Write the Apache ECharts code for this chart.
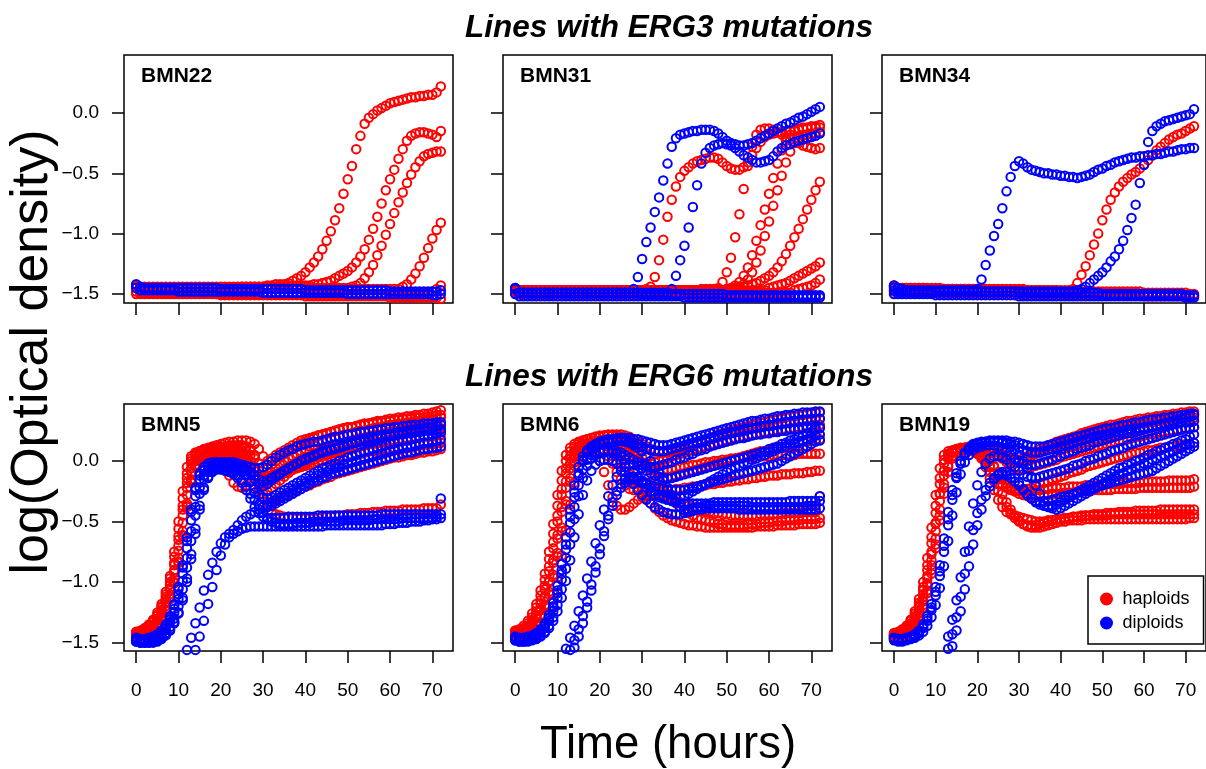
<!DOCTYPE html>
<html><head><meta charset="utf-8">
<script src="https://cdn.jsdelivr.net/npm/echarts@6/dist/echarts.min.js"></script>
<style>html,body{margin:0;padding:0;background:#fff}#c{width:1206px;height:769px}</style>
</head><body><div id="c"></div>
<script>
// time grid (hours) and tick labels
const HOURS = [0,1,2,3,4,5,6,7,8,9,10,11,12,13,14,15,16,17,18,19,20,21,22,23,24,25,26,27,28,29,30,31,32,33,34,35,36,37,38,39,40,41,42,43,44,45,46,47,48,49,50,51,52,53,54,55,56,57,58,59,60,61,62,63,64,65,66,67,68,69,70,71,72];
const X_TICKS = [0,10,20,30,40,50,60,70];
const Y_TICKS = [-1.5,-1.0,-0.5,0.0];
const ROW_TITLES = ['Lines with ERG3 mutations','Lines with ERG6 mutations'];
const PANEL_NAMES = ['BMN22','BMN31','BMN34','BMN5','BMN6','BMN19'];
const GROUPS = ['haploids','diploids'];
// values: log(OD) x 100, one value per hour

// ---- BMN22 ----
const bmn22_hap_a = [-144,-145,-145,-145,-145,-145,-145,-145,-145,-145,
-145,-145,-145,-145,-145,-145,-145,-145,-145,-145,
-145,-145,-145,-145,-145,-144,-144,-144,-144,-144,
-144,-143,-143,-142,-142,-142,-141,-139,-137,-135,
-132,-128,-124,-119,-113,-106,-98,-89,-79,-67,
-55,-44,-30,-19,-9,-4,-1,2,4,6,
8,9,10,11,12,13,13,14,14,15,
15,17,22];
const bmn22_hap_b = [-143,-144,-144,-144,-144,-144,-144,-144,-144,-144,
-144,-144,-144,-144,-144,-144,-144,-144,-144,-144,
-144,-144,-144,-144,-144,-144,-144,-144,-144,-144,
-144,-144,-144,-144,-144,-144,-143,-143,-143,-143,
-143,-143,-142,-142,-141,-140,-139,-137,-135,-133,
-131,-128,-124,-119,-113,-105,-96,-86,-75,-64,
-55,-47,-38,-30,-23,-19,-17,-16,-16,-17,
-18,-20,-15];
const bmn22_hap_c = [-144,-145,-145,-145,-145,-145,-145,-145,-145,-145,
-145,-145,-145,-145,-145,-145,-145,-145,-145,-145,
-145,-145,-145,-145,-145,-145,-145,-145,-145,-145,
-145,-145,-145,-145,-145,-145,-145,-145,-145,-145,
-145,-145,-145,-145,-145,-145,-145,-145,-145,-145,
-145,-144,-143,-141,-137,-132,-126,-118,-110,-101,
-92,-83,-74,-66,-58,-51,-45,-40,-36,-34,
-33,-32,-32];
const bmn22_hap_d = [-144,-146,-146,-146,-146,-146,-146,-146,-146,-146,
-146,-146,-146,-146,-146,-146,-146,-146,-146,-146,
-146,-146,-146,-146,-146,-146,-146,-146,-146,-146,
-146,-146,-146,-146,-146,-146,-146,-146,-146,-146,
-146,-146,-146,-146,-146,-146,-146,-146,-146,-146,
-146,-146,-146,-146,-146,-146,-146,-146,-146,-146,
-146,-146,-146,-144,-142,-138,-133,-127,-120,-112,
-104,-97,-91];
const bmn22_hap_e = [-148,-149,-149,-149,-149,-149,-149,-149,-149,-149,
-149,-149,-149,-149,-149,-149,-149,-149,-149,-149,
-150,-150,-150,-150,-150,-150,-150,-150,-150,-150,
-150,-150,-150,-150,-150,-150,-150,-150,-150,-150,
-150,-150,-150,-150,-150,-150,-150,-150,-150,-150,
-150,-150,-150,-150,-150,-150,-150,-150,-150,-150,
-151,-151,-151,-151,-151,-151,-151,-151,-151,-150,
-148,-146,-143];
const bmn22_hap_f = [-150,-150,-150,-150,-150,-150,-150,-150,-150,-150,
-150,-150,-150,-150,-150,-150,-150,-150,-150,-150,
-151,-151,-151,-151,-151,-151,-151,-151,-151,-151,
-151,-151,-151,-151,-151,-151,-151,-151,-151,-151,
-152,-152,-152,-152,-152,-152,-152,-152,-152,-152,
-152,-152,-152,-152,-152,-152,-152,-152,-152,-152,
-153,-153,-153,-153,-153,-153,-153,-153,-153,-153,
-153,-153,-154];
const bmn22_dip_a = [-142,-144,-145,-145,-145,-145,-145,-145,-145,-145,
-145,-145,-145,-145,-145,-145,-145,-145,-145,-145,
-146,-146,-146,-146,-146,-146,-146,-146,-146,-146,
-146,-146,-146,-146,-146,-146,-146,-146,-146,-146,
-147,-147,-147,-147,-147,-147,-147,-147,-147,-147,
-147,-147,-147,-147,-147,-147,-147,-147,-147,-147,
-148,-148,-148,-148,-148,-148,-148,-148,-148,-148,
-148,-148,-147];
const bmn22_dip_b = [-145,-147,-147,-147,-147,-147,-147,-147,-147,-147,
-148,-148,-148,-148,-148,-148,-148,-148,-148,-148,
-148,-148,-148,-148,-148,-148,-148,-148,-148,-148,
-149,-149,-149,-149,-149,-149,-149,-149,-149,-149,
-149,-149,-149,-149,-149,-149,-149,-149,-149,-149,
-150,-150,-150,-150,-150,-150,-150,-150,-150,-150,
-150,-150,-150,-150,-150,-150,-150,-150,-150,-150,
-151,-151,-150];

// ---- BMN31 ----
const bmn31_hap_a = [-146,-147,-147,-147,-147,-147,-147,-147,-147,-147,
-147,-147,-147,-147,-147,-147,-147,-147,-147,-147,
-147,-147,-147,-147,-147,-147,-147,-147,-147,-147,
-147,-146,-144,-136,-122,-105,-86,-72,-61,-53,
-48,-45,-42,-40,-39,-38,-37,-37,-38,-41,
-44,-46,-47,-47,-45,-41,-35,-29,-24,-20,
-18,-17,-16,-16,-15,-15,-14,-14,-13,-13,
-12,-12,-12];
const bmn31_hap_b = [-146,-147,-147,-147,-147,-147,-147,-147,-147,-147,
-147,-147,-147,-147,-147,-147,-147,-147,-147,-147,
-147,-147,-147,-147,-147,-147,-147,-147,-147,-147,
-147,-147,-147,-147,-147,-147,-147,-147,-147,-147,
-147,-147,-147,-147,-146,-146,-146,-146,-145,-140,
-132,-120,-103,-84,-63,-44,-28,-18,-14,-13,
-13,-14,-16,-18,-20,-22,-24,-25,-27,-28,
-29,-30,-29];
const bmn31_hap_c = [-146,-147,-147,-147,-147,-147,-147,-147,-147,-147,
-147,-147,-147,-147,-147,-147,-147,-147,-147,-147,
-147,-147,-147,-147,-147,-147,-147,-147,-147,-147,
-147,-147,-147,-147,-147,-147,-147,-147,-147,-147,
-147,-147,-147,-147,-147,-147,-147,-147,-147,-147,
-146,-145,-143,-140,-135,-128,-118,-106,-93,-80,
-67,-54,-42,-31,-23,-18,-15,-13,-12,-12,
-11,-11,-10];
const bmn31_hap_d = [-146,-147,-147,-147,-147,-147,-147,-147,-147,-147,
-147,-147,-147,-147,-147,-147,-147,-147,-147,-147,
-147,-147,-147,-147,-147,-147,-147,-147,-147,-147,
-147,-147,-147,-147,-147,-147,-147,-147,-147,-147,
-147,-147,-147,-147,-147,-147,-147,-147,-147,-147,
-147,-146,-145,-144,-142,-138,-132,-124,-114,-102,
-90,-77,-64,-52,-41,-32,-25,-21,-19,-18,
-17,-17,-16];
const bmn31_hap_e = [-146,-147,-147,-147,-147,-147,-147,-147,-147,-147,
-147,-147,-147,-147,-147,-147,-147,-147,-147,-147,
-147,-147,-147,-147,-147,-147,-147,-147,-147,-147,
-147,-147,-147,-147,-147,-147,-147,-147,-147,-147,
-147,-147,-147,-147,-147,-147,-147,-147,-147,-147,
-146,-146,-145,-145,-144,-143,-142,-141,-139,-137,
-135,-132,-128,-123,-117,-110,-103,-96,-88,-80,
-72,-64,-57];
const bmn31_hap_f = [-147,-148,-148,-148,-148,-148,-148,-148,-148,-148,
-148,-148,-148,-148,-148,-148,-148,-148,-148,-148,
-148,-148,-148,-148,-148,-148,-148,-148,-148,-148,
-148,-148,-148,-148,-148,-148,-148,-148,-148,-148,
-148,-148,-148,-148,-148,-148,-148,-148,-148,-148,
-147,-147,-147,-147,-147,-147,-147,-147,-147,-147,
-145,-144,-143,-142,-141,-139,-137,-135,-133,-131,
-129,-127,-124];
const bmn31_hap_g = [-148,-149,-149,-149,-149,-149,-149,-149,-149,-149,
-149,-149,-149,-149,-149,-149,-149,-149,-149,-149,
-149,-149,-149,-149,-149,-149,-149,-149,-149,-149,
-149,-149,-149,-149,-149,-149,-149,-149,-149,-149,
-149,-149,-149,-149,-149,-149,-149,-149,-149,-149,
-149,-149,-149,-149,-149,-149,-149,-149,-149,-149,
-149,-149,-149,-149,-149,-149,-147,-146,-145,-144,
-143,-141,-138];
const bmn31_hap_h = [-149,-150,-150,-150,-150,-150,-150,-150,-150,-150,
-150,-150,-150,-150,-150,-150,-150,-150,-150,-150,
-150,-150,-150,-150,-150,-150,-150,-150,-150,-150,
-150,-150,-150,-150,-150,-150,-150,-150,-150,-150,
-151,-151,-151,-151,-151,-151,-151,-151,-151,-151,
-151,-151,-151,-151,-151,-151,-151,-151,-151,-151,
-152,-152,-152,-152,-152,-152,-152,-152,-152,-152,
-152,-152,-152];
const bmn31_dip_a = [-145,-149,-149,-149,-149,-149,-149,-149,-149,-149,
-149,-149,-149,-149,-149,-149,-149,-149,-149,-149,
-149,-149,-149,-149,-149,-149,-149,-149,-146,-136,
-121,-107,-95,-82,-70,-56,-42,-28,-21,-18,
-17,-16,-15,-15,-14,-14,-14,-15,-17,-20,
-23,-25,-26,-27,-27,-26,-25,-23,-21,-19,
-17,-15,-13,-11,-9,-8,-6,-4,-3,-1,
1,3,5];
const bmn31_dip_b = [-145,-149,-149,-149,-149,-149,-149,-149,-149,-149,
-149,-149,-149,-149,-149,-149,-149,-149,-149,-149,
-149,-149,-149,-149,-149,-149,-149,-149,-149,-149,
-149,-149,-149,-149,-149,-149,-149,-146,-135,-122,
-110,-95,-78,-60,-42,-33,-29,-27,-26,-25,
-26,-27,-29,-32,-35,-37,-39,-41,-41,-40,
-39,-36,-32,-29,-27,-26,-24,-23,-22,-21,
-20,-19,-17];
const bmn31_dip_c = [-146,-149,-149,-149,-149,-149,-149,-149,-149,-149,
-149,-149,-149,-149,-149,-149,-149,-149,-149,-149,
-149,-149,-149,-149,-149,-149,-149,-149,-149,-149,
-150,-150,-150,-150,-150,-150,-150,-150,-150,-150,
-150,-150,-150,-150,-150,-150,-150,-150,-150,-150,
-151,-151,-151,-151,-151,-151,-151,-151,-151,-151,
-151,-151,-151,-151,-151,-151,-151,-151,-151,-151,
-151,-151,-151];
const bmn31_dip_d = [-150,-152,-152,-152,-152,-152,-152,-152,-152,-152,
-152,-152,-152,-152,-152,-152,-152,-152,-152,-152,
-152,-152,-152,-152,-152,-152,-152,-152,-152,-152,
-152,-152,-152,-152,-152,-152,-152,-152,-152,-152,
-153,-153,-153,-153,-153,-153,-153,-153,-153,-153,
-153,-153,-153,-153,-153,-153,-153,-153,-153,-153,
-153,-153,-153,-153,-153,-153,-153,-153,-153,-153,
-153,-153,-153];

// ---- BMN34 ----
const bmn34_hap_a = [-143,-145,-145,-145,-145,-145,-145,-145,-145,-145,
-145,-145,-146,-146,-146,-146,-146,-146,-146,-146,
-146,-146,-146,-146,-146,-146,-146,-146,-146,-146,
-146,-146,-147,-147,-147,-147,-147,-147,-147,-147,
-147,-147,-147,-146,-141,-134,-127,-118,-109,-100,
-89,-80,-72,-66,-61,-57,-54,-51,-49,-46,
-43,-39,-35,-31,-28,-25,-22,-20,-18,-17,
-15,-13,-11];
const bmn34_hap_b = [-144,-145,-145,-145,-145,-145,-145,-145,-146,-146,
-146,-146,-146,-146,-146,-146,-146,-146,-146,-146,
-147,-147,-147,-147,-147,-147,-147,-147,-147,-147,
-147,-147,-147,-147,-147,-147,-147,-147,-147,-147,
-148,-148,-148,-148,-148,-148,-148,-148,-148,-148,
-148,-148,-148,-148,-148,-148,-148,-148,-148,-148,
-149,-149,-149,-149,-149,-149,-149,-149,-149,-149,
-149,-150,-150];
const bmn34_hap_c = [-148,-148,-148,-148,-148,-148,-148,-148,-148,-148,
-149,-149,-149,-149,-149,-149,-149,-149,-149,-149,
-149,-149,-149,-149,-149,-149,-149,-149,-149,-149,
-150,-150,-150,-150,-150,-150,-150,-150,-150,-150,
-150,-150,-150,-150,-150,-150,-150,-150,-150,-150,
-151,-151,-151,-151,-151,-151,-151,-151,-151,-151,
-152,-152,-152,-152,-152,-152,-152,-152,-152,-152,
-152,-152,-152];
const bmn34_dip_a = [-143,-145,-146,-147,-147,-147,-147,-147,-147,-147,
-147,-147,-147,-147,-147,-147,-147,-147,-147,-147,
-146,-138,-126,-114,-102,-92,-79,-65,-53,-44,
-40,-42,-45,-47,-48,-49,-50,-50,-51,-51,
-52,-52,-53,-53,-54,-53,-52,-51,-49,-47,
-46,-44,-43,-41,-40,-39,-38,-37,-37,-36,
-36,-35,-35,-34,-34,-33,-32,-32,-31,-30,
-30,-29,-29];
const bmn34_dip_b = [-145,-148,-148,-148,-148,-148,-148,-148,-148,-148,
-148,-148,-148,-148,-148,-148,-148,-148,-148,-148,
-148,-148,-148,-148,-148,-148,-148,-148,-148,-148,
-148,-148,-148,-148,-148,-148,-148,-148,-148,-148,
-148,-148,-148,-148,-147,-146,-144,-141,-138,-135,
-132,-128,-123,-119,-113,-106,-97,-87,-76,-58,
-43,-24,-15,-11,-9,-7,-6,-5,-4,-3,
-2,-1,3];
const bmn34_dip_c = [-147,-148,-148,-148,-148,-148,-148,-148,-148,-148,
-148,-148,-148,-148,-148,-148,-148,-148,-148,-148,
-148,-148,-148,-148,-148,-148,-148,-148,-148,-148,
-149,-149,-149,-149,-149,-149,-149,-149,-149,-149,
-149,-149,-149,-149,-149,-149,-149,-149,-149,-149,
-150,-150,-150,-150,-150,-150,-150,-150,-150,-150,
-150,-150,-150,-150,-150,-150,-150,-150,-150,-150,
-151,-151,-151];
const bmn34_dip_d = [-150,-150,-150,-150,-150,-150,-150,-150,-150,-150,
-151,-151,-151,-151,-151,-151,-151,-151,-151,-151,
-151,-151,-151,-151,-151,-151,-151,-151,-151,-151,
-152,-152,-152,-152,-152,-152,-152,-152,-152,-152,
-152,-152,-152,-152,-152,-152,-152,-152,-152,-152,
-152,-152,-152,-152,-152,-152,-152,-152,-152,-152,
-152,-152,-152,-152,-152,-152,-152,-152,-152,-152,
-153,-153,-153];

// ---- BMN5 ----
const bmn5_hap_a = [-141,-140,-138,-135,-131,-125,-118,-108,-95,-75,
-50,-25,-5,4,7,8,9,10,10,11,
11,12,12,12,13,13,12,10,5,-2,
-5,-6,-3,0,3,6,8,10,12,14,
16,18,19,21,22,23,24,25,26,27,
28,28,29,30,31,31,32,33,33,34,
35,35,36,36,37,37,38,38,39,39,
40,41,42];
const bmn5_hap_b = [-143,-142,-141,-139,-136,-131,-125,-116,-105,-90,
-70,-45,-22,-6,2,5,6,7,7,8,
8,8,8,8,7,6,3,-3,-12,-22,
-27,-25,-22,-19,-16,-13,-10,-7,-5,-3,
-1,1,3,5,7,8,10,11,12,14,
15,16,17,18,19,20,21,22,22,23,
24,25,25,26,27,27,28,28,29,29,
30,30,31];
const bmn5_hap_c = [-142,-141,-139,-137,-133,-128,-121,-112,-100,-84,
-62,-37,-14,0,6,8,9,9,10,10,
10,10,10,10,10,9,8,5,-5,-18,
-30,-38,-42,-44,-45,-46,-46,-47,-47,-47,
-47,-47,-47,-47,-46,-46,-46,-45,-45,-45,
-44,-44,-44,-43,-43,-43,-42,-42,-42,-41,
-41,-41,-41,-40,-40,-40,-40,-40,-39,-39,
-39,-39,-36];
const bmn5_hap_d = [-145,-144,-143,-141,-138,-134,-128,-120,-110,-97,
-80,-58,-35,-15,-3,2,4,5,5,5,
5,5,5,5,5,4,2,-5,-15,-20,
-20,-18,-16,-14,-12,-10,-8,-6,-5,-3,
-2,0,1,3,4,5,6,7,8,9,
10,11,12,13,13,14,15,15,16,16,
17,17,18,18,19,19,20,20,21,21,
21,22,22];
const bmn5_hap_e = [-142,-141,-140,-138,-135,-130,-123,-114,-102,-86,
-65,-40,-18,-2,5,8,10,11,12,13,
14,15,16,16,17,17,17,16,14,10,
4,0,2,5,7,9,11,13,15,17,
18,19,20,21,22,23,24,25,26,27,
28,28,29,30,30,31,31,32,32,33,
33,34,34,35,35,35,36,36,36,37,
37,38,38];
const bmn5_hap_f = [-146,-145,-144,-142,-140,-136,-131,-124,-114,-101,
-84,-62,-38,-18,-5,0,2,3,3,2,
0,-5,-12,-18,-21,-22,-20,-17,-15,-14,
-14,-13,-12,-11,-10,-9,-8,-7,-6,-5,
-4,-3,-2,-1,0,1,1,2,3,4,
4,5,6,6,7,8,8,9,9,10,
10,11,11,12,12,13,13,13,14,14,
14,15,15];
const bmn5_hap_g = [-142,-141,-139,-136,-132,-127,-120,-110,-97,-79,
-56,-31,-10,2,6,8,9,10,11,11,
12,12,13,13,13,13,12,9,2,-8,
-14,-12,-9,-6,-3,0,2,4,6,8,
10,12,13,15,16,17,18,19,20,21,
22,23,24,25,25,26,27,28,28,29,
30,30,31,31,32,32,33,33,34,34,
35,35,36];
const bmn5_hap_h = [-144,-143,-142,-140,-137,-132,-126,-117,-106,-92,
-74,-51,-28,-10,0,4,6,7,8,8,
8,8,8,8,8,7,5,0,-8,-14,
-16,-15,-13,-11,-9,-7,-5,-3,-1,1,
3,4,6,7,8,9,10,11,12,13,
14,15,16,17,17,18,19,20,20,21,
21,22,23,23,24,24,25,25,26,26,
26,27,27];
const bmn5_hap_i = [-145,-144,-143,-141,-139,-135,-130,-123,-113,-100,
-83,-61,-37,-17,-4,2,5,6,7,7,
7,7,6,6,5,4,1,-5,-14,-24,
-31,-34,-34,-33,-31,-29,-28,-26,-24,-23,
-21,-20,-18,-17,-15,-14,-13,-11,-10,-9,
-8,-7,-6,-5,-4,-3,-2,-1,0,1,
2,3,3,4,5,5,6,7,7,8,
8,9,10];
const bmn5_dip_a = [-147,-148,-148,-147,-146,-144,-141,-136,-129,-119,
-106,-88,-66,-42,-24,-12,-7,-4,-3,-3,
-3,-3,-3,-3,-4,-5,-7,-9,-12,-15,
-17,-16,-14,-12,-10,-8,-6,-4,-2,0,
2,3,5,6,8,9,10,11,12,13,
14,15,16,17,18,19,20,20,21,22,
22,23,24,24,25,26,26,27,27,28,
28,29,30];
const bmn5_dip_b = [-148,-149,-149,-148,-147,-146,-143,-139,-133,-125,
-114,-99,-80,-58,-38,-22,-12,-7,-5,-4,
-4,-4,-5,-6,-7,-9,-12,-17,-26,-36,
-43,-48,-50,-51,-52,-52,-52,-52,-51,-51,
-51,-51,-50,-50,-50,-50,-50,-50,-50,-49,
-49,-49,-49,-49,-49,-49,-48,-48,-48,-48,
-48,-48,-48,-47,-47,-47,-47,-47,-47,-47,
-47,-46,-31];
const bmn5_dip_c = [-149,-150,-150,-150,-149,-148,-146,-143,-139,-133,
-125,-113,-97,-77,-56,-37,-22,-13,-8,-6,
-5,-5,-5,-6,-7,-9,-12,-17,-23,-28,
-30,-31,-30,-28,-26,-24,-22,-20,-18,-16,
-14,-12,-10,-8,-6,-5,-3,-2,0,1,
3,4,5,7,8,9,10,11,12,13,
14,15,16,17,17,18,19,20,21,21,
22,23,24];
const bmn5_dip_d = [null,null,null,null,null,null,null,null,null,null,
null,-160,-156,-146,-134,-121,-107,-94,-84,-75,
-68,-63,-60,-57,-53,-49,-46,-44,-42,-40,
-38,-36,-34,-32,-30,-28,-26,-24,-22,-20,
-18,-16,-14,-12,-10,-9,-7,-6,-5,-3,
-2,-1,0,1,2,3,4,5,6,7,
8,9,10,11,11,12,13,14,15,15,
16,17,18];
const bmn5_dip_e = [null,null,null,null,null,null,null,null,null,null,
null,null,null,-162,-156,-145,-132,-118,-104,-90,
-78,-69,-63,-60,-58,-56,-55,-54,-54,-54,
-54,-54,-54,-54,-54,-54,-54,-54,-54,-54,
-54,-54,-54,-54,-54,-53,-53,-53,-53,-53,
-53,-53,-53,-53,-53,-53,-53,-53,-53,-52,
-52,-52,-51,-51,-51,-50,-50,-50,-49,-49,
-48,-48,-47];
const bmn5_dip_f = [-146,-147,-147,-146,-145,-143,-140,-135,-128,-118,
-104,-86,-63,-40,-22,-10,-5,-2,-1,-1,
-1,-1,-1,-1,-2,-3,-4,-5,-6,-6,
-5,-3,0,3,5,7,9,10,12,13,
14,15,16,16,17,18,19,20,20,21,
22,22,23,24,24,25,25,26,26,27,
27,28,28,29,29,30,30,30,31,31,
31,32,32];
const bmn5_dip_g = [-147,-148,-148,-147,-146,-145,-142,-138,-131,-122,
-110,-93,-72,-49,-29,-15,-8,-5,-4,-4,
-4,-4,-4,-4,-5,-6,-8,-11,-15,-19,
-21,-19,-16,-13,-11,-8,-6,-4,-2,0,
1,3,4,6,7,8,9,10,11,12,
13,14,15,16,16,17,18,19,19,20,
21,21,22,22,23,23,24,24,25,25,
25,26,26];
const bmn5_dip_h = [-148,-149,-149,-149,-148,-147,-145,-142,-137,-130,
-120,-106,-88,-66,-45,-27,-15,-9,-6,-5,
-5,-6,-7,-9,-12,-16,-21,-27,-32,-36,
-38,-38,-37,-35,-33,-31,-29,-27,-25,-23,
-21,-19,-17,-16,-14,-13,-11,-10,-9,-8,
-7,-6,-5,-4,-3,-2,-1,0,1,2,
3,4,5,6,7,7,8,9,10,10,
11,11,12];
const bmn5_dip_i = [-149,-150,-150,-150,-150,-149,-147,-144,-140,-134,
-126,-115,-100,-81,-60,-40,-24,-14,-9,-7,
-7,-8,-9,-11,-14,-18,-24,-31,-38,-43,
-46,-47,-47,-47,-47,-47,-46,-46,-46,-46,
-46,-46,-46,-45,-45,-45,-45,-45,-45,-45,
-45,-45,-45,-45,-45,-45,-45,-45,-44,-44,
-44,-44,-44,-44,-44,-44,-44,-44,-44,-44,
-44,-44,-44];

// ---- BMN6 ----
const bmn6_hap_a = [-140,-139,-136,-132,-126,-118,-107,-93,-75,-52,
-28,-8,5,11,14,16,17,18,19,20,
21,21,22,22,22,22,21,20,18,16,
14,12,10,9,8,7,7,7,8,9,
10,12,13,15,16,18,19,20,22,23,
24,25,26,27,28,29,30,31,32,32,
33,34,35,35,36,37,37,38,38,39,
39,40,40];
const bmn6_hap_b = [-142,-141,-139,-136,-131,-124,-115,-103,-87,-67,
-45,-23,-6,4,9,12,14,15,16,17,
17,18,18,18,18,17,16,14,11,7,
3,-2,-7,-12,-17,-22,-27,-31,-35,-38,
-41,-43,-45,-47,-48,-49,-50,-51,-52,-52,
-53,-53,-53,-53,-53,-52,-52,-52,-51,-51,
-51,-50,-50,-50,-49,-49,-49,-49,-48,-48,
-48,-48,-47];
const bmn6_hap_c = [-143,-142,-140,-138,-134,-129,-122,-112,-99,-82,
-61,-38,-17,-2,6,9,10,10,9,6,
0,-9,-20,-30,-37,-40,-40,-38,-35,-32,
-30,-28,-27,-26,-25,-25,-24,-24,-23,-23,
-22,-22,-21,-21,-20,-20,-19,-19,-18,-18,
-17,-17,-16,-16,-15,-15,-14,-14,-13,-13,
-12,-12,-12,-11,-11,-11,-10,-10,-10,-9,
-9,-8,-8];
const bmn6_hap_d = [-144,-143,-142,-140,-137,-133,-127,-119,-108,-94,
-76,-55,-33,-14,-1,6,10,12,13,14,
14,15,15,15,14,13,11,8,4,0,
-3,-5,-7,-8,-8,-8,-7,-7,-6,-5,
-5,-4,-3,-3,-2,-1,-1,0,0,1,
1,2,2,2,3,3,3,4,4,4,
4,5,5,5,5,5,5,6,6,6,
6,6,6];
const bmn6_hap_e = [-145,-144,-143,-141,-138,-134,-128,-120,-110,-96,
-79,-58,-36,-17,-4,4,8,10,11,11,
10,8,4,-2,-9,-15,-20,-23,-24,-24,
-24,-24,-25,-26,-27,-28,-30,-31,-33,-34,
-35,-37,-38,-39,-40,-41,-42,-43,-43,-44,
-44,-45,-45,-45,-45,-45,-45,-45,-44,-44,
-44,-44,-44,-43,-43,-43,-43,-43,-42,-42,
-42,-42,-29];
const bmn6_hap_f = [-146,-146,-145,-144,-142,-139,-135,-129,-121,-110,
-96,-78,-57,-36,-18,-5,3,8,11,13,
14,15,16,16,16,15,13,10,6,2,
-1,-2,-2,-1,0,1,2,4,5,6,
7,8,9,10,11,12,13,14,15,16,
17,18,19,19,20,21,22,22,23,24,
24,25,25,26,26,27,27,28,28,29,
29,30,30];
const bmn6_hap_g = [-141,-140,-138,-134,-129,-121,-111,-98,-81,-60,
-37,-16,0,8,12,15,17,18,19,20,
20,21,21,21,21,20,19,18,16,14,
12,10,9,8,8,8,8,9,10,11,
12,13,14,15,16,17,18,19,20,21,
22,23,24,24,25,26,27,27,28,29,
29,30,31,31,32,32,33,33,34,34,
35,35,35];
const bmn6_hap_h = [-144,-143,-141,-139,-135,-130,-123,-113,-100,-84,
-64,-42,-22,-6,4,9,12,13,14,14,
14,13,12,10,7,3,-2,-8,-13,-17,
-19,-19,-18,-17,-16,-15,-14,-13,-12,-11,
-10,-9,-8,-7,-6,-5,-4,-3,-2,-1,
0,1,2,3,4,5,6,7,8,8,
9,10,11,12,12,13,14,15,16,16,
17,17,18];
const bmn6_hap_i = [-143,-142,-140,-137,-133,-127,-118,-106,-91,-72,
-50,-28,-10,2,8,11,13,14,15,15,
15,14,12,9,5,0,-5,-11,-17,-22,
-27,-31,-35,-39,-42,-45,-47,-49,-50,-51,
-52,-53,-53,-54,-54,-55,-55,-55,-55,-55,
-55,-55,-55,-55,-55,-55,-55,-54,-54,-54,
-54,-54,-53,-53,-53,-53,-53,-52,-52,-52,
-52,-52,-51];
const bmn6_dip_a = [-145,-146,-146,-145,-144,-142,-139,-134,-127,-117,
-103,-85,-63,-40,-20,-5,4,9,12,14,
16,17,18,18,19,19,19,19,18,18,
17,16,15,14,13,13,13,14,15,16,
17,18,19,20,21,22,23,24,25,26,
27,28,29,30,31,32,33,33,34,35,
35,36,37,37,38,38,39,39,40,40,
40,41,41];
const bmn6_dip_b = [-146,-147,-147,-146,-145,-143,-140,-136,-130,-121,
-109,-93,-73,-51,-30,-12,0,7,11,13,
15,16,16,17,17,17,16,15,13,11,
8,4,0,-5,-10,-16,-22,-28,-34,-38,
-40,-40,-39,-38,-38,-37,-37,-37,-37,-37,
-37,-37,-37,-37,-37,-37,-38,-38,-38,-38,
-38,-38,-38,-38,-38,-38,-38,-38,-38,-37,
-37,-37,-29];
const bmn6_dip_c = [null,null,null,null,null,null,null,null,null,null,
null,-161,-155,-146,-136,-124,-111,-97,-83,-68,
-53,-40,-29,-20,-13,-8,-5,-3,-3,-4,
-6,-8,-10,-12,-13,-14,-14,-14,-13,-12,
-11,-10,-9,-8,-7,-6,-5,-4,-3,-2,
-1,0,1,2,3,4,5,6,7,8,
10,11,12,14,15,17,18,20,21,23,
24,26,27];
const bmn6_dip_d = [null,null,null,null,null,null,null,null,null,null,
null,null,null,-160,-154,-145,-134,-121,-107,-92,
-77,-62,-48,-37,-28,-22,-18,-16,-15,-16,
-17,-18,-20,-21,-22,-23,-24,-24,-24,-24,
-24,-23,-22,-21,-20,-19,-18,-17,-16,-15,
-14,-13,-12,-11,-10,-9,-8,-7,-6,-5,
-4,-3,-2,0,2,4,6,8,10,12,
14,16,17];
const bmn6_dip_e = [-147,-148,-148,-147,-146,-145,-142,-138,-132,-124,
-113,-98,-80,-59,-38,-20,-7,1,5,7,
8,9,9,9,8,7,5,3,1,-1,
-3,-4,-5,-5,-4,-3,-2,-1,1,2,
3,5,6,8,9,10,12,13,14,15,
16,17,18,19,19,20,21,22,22,23,
23,24,24,25,25,26,26,26,27,27,
27,27,28];
const bmn6_dip_f = [-148,-149,-149,-149,-148,-147,-145,-142,-138,-132,
-124,-113,-99,-82,-63,-44,-28,-16,-8,-3,
0,1,1,0,-2,-5,-9,-14,-19,-24,
-28,-32,-35,-38,-40,-42,-43,-44,-44,-44,
-43,-42,-41,-40,-40,-39,-39,-39,-39,-39,
-39,-39,-39,-40,-40,-40,-40,-40,-40,-40,
-40,-40,-40,-40,-40,-40,-40,-40,-40,-40,
-40,-40,-39];
const bmn6_dip_g = [-146,-147,-147,-146,-145,-143,-140,-136,-129,-120,
-107,-90,-69,-46,-26,-10,1,7,10,12,
14,15,16,16,17,17,17,16,15,14,
12,10,9,8,8,8,9,10,11,12,
13,14,15,16,17,18,19,20,21,22,
23,24,24,25,26,27,27,28,29,29,
30,30,31,31,32,32,33,33,34,34,
34,35,35];
const bmn6_dip_h = [-148,-149,-149,-148,-147,-146,-144,-141,-136,-129,
-119,-106,-89,-69,-48,-29,-14,-4,2,5,
7,8,8,7,6,4,1,-3,-8,-13,
-18,-22,-25,-28,-30,-31,-32,-32,-31,-30,
-29,-27,-25,-23,-21,-19,-17,-15,-13,-11,
-9,-7,-5,-4,-2,-1,1,2,4,5,
7,8,10,11,12,14,15,16,17,18,
19,21,22];
const bmn6_dip_i = [null,null,null,null,null,null,null,null,null,null,
null,null,-162,-156,-148,-139,-128,-116,-102,-87,
-72,-58,-45,-34,-25,-19,-15,-13,-13,-14,
-16,-19,-22,-25,-28,-30,-32,-33,-34,-35,
-35,-35,-35,-35,-35,-35,-35,-34,-34,-34,
-34,-34,-34,-34,-34,-34,-34,-34,-34,-34,
-34,-34,-34,-34,-34,-33,-33,-33,-33,-33,
-33,-33,-33];

// ---- BMN19 ----
const bmn19_hap_a = [-142,-141,-139,-136,-131,-124,-114,-100,-80,-55,
-28,-6,5,8,9,10,10,11,11,12,
12,12,12,11,10,8,6,4,2,1,
1,2,4,6,8,10,11,13,14,16,
17,18,19,20,21,23,24,25,26,27,
28,29,30,30,31,32,33,33,34,35,
35,36,36,37,37,38,38,39,39,40,
40,41,41];
const bmn19_hap_b = [-143,-142,-141,-138,-134,-128,-119,-107,-90,-68,
-43,-19,-2,6,8,9,9,9,9,8,
6,2,-5,-14,-24,-32,-38,-42,-44,-45,
-46,-47,-48,-49,-50,-50,-50,-49,-49,-48,
-48,-47,-47,-46,-46,-45,-45,-45,-44,-44,
-44,-43,-43,-43,-42,-42,-42,-42,-41,-41,
-41,-41,-41,-41,-40,-40,-40,-40,-40,-40,
-40,-40,-40];
const bmn19_hap_c = [-144,-143,-142,-140,-137,-132,-125,-115,-101,-82,
-58,-33,-12,2,7,9,10,10,10,9,
8,6,2,-4,-11,-19,-27,-34,-40,-45,
-49,-52,-54,-55,-55,-55,-54,-53,-52,-51,
-50,-50,-49,-49,-49,-49,-48,-48,-48,-48,
-48,-48,-48,-48,-48,-48,-48,-48,-48,-48,
-48,-48,-48,-48,-48,-48,-48,-48,-48,-48,
-48,-47,-47];
const bmn19_hap_d = [-145,-144,-143,-141,-138,-134,-128,-119,-107,-90,
-69,-45,-22,-5,4,8,10,11,11,11,
10,8,5,1,-4,-9,-14,-18,-21,-23,
-24,-25,-25,-25,-24,-24,-23,-23,-22,-22,
-22,-22,-21,-21,-21,-21,-20,-20,-20,-20,
-20,-19,-19,-19,-19,-18,-18,-18,-18,-18,
-17,-17,-17,-17,-17,-17,-16,-16,-16,-16,
-16,-16,-15];
const bmn19_hap_e = [-144,-143,-142,-140,-136,-131,-123,-112,-97,-77,
-52,-27,-8,4,8,10,11,11,12,12,
12,12,11,10,8,5,2,-1,-4,-6,
-7,-7,-6,-5,-4,-3,-2,-1,0,1,
3,4,5,6,7,8,9,10,11,12,
13,14,15,16,17,17,18,19,20,20,
21,22,22,23,24,24,25,25,26,26,
27,27,28];
const bmn19_hap_f = [-146,-146,-145,-143,-140,-136,-130,-121,-109,-93,
-72,-49,-27,-9,2,7,9,10,10,9,
7,4,0,-5,-10,-15,-19,-22,-24,-25,
-25,-24,-23,-22,-21,-19,-18,-17,-15,-14,
-13,-12,-10,-9,-8,-7,-5,-4,-3,-2,
-1,0,1,2,3,4,5,6,7,7,
8,9,9,10,11,11,12,12,13,13,
14,14,15];
const bmn19_hap_g = [-143,-142,-140,-137,-132,-126,-117,-104,-86,-63,
-37,-14,1,6,8,9,10,10,11,11,
11,11,11,10,9,7,5,3,1,0,
-1,0,2,4,6,7,9,10,12,13,
14,15,16,17,18,19,20,21,22,23,
24,25,26,26,27,28,29,29,30,31,
31,32,32,33,33,34,34,35,35,35,
35,36,36];
const bmn19_hap_h = [-144,-143,-141,-139,-135,-129,-121,-110,-95,-75,
-51,-27,-8,3,7,9,9,10,9,8,
6,3,-2,-9,-17,-25,-32,-38,-43,-47,
-50,-52,-53,-53,-53,-52,-51,-50,-49,-48,
-48,-47,-47,-46,-46,-46,-45,-45,-45,-45,
-45,-45,-44,-44,-44,-44,-44,-44,-44,-44,
-44,-44,-44,-44,-44,-44,-44,-44,-44,-44,
-44,-44,-44];
const bmn19_hap_i = [-145,-144,-143,-141,-138,-133,-126,-116,-103,-86,
-64,-40,-19,-4,4,8,9,10,10,10,
9,7,4,0,-5,-10,-15,-19,-22,-25,
-27,-28,-29,-29,-29,-29,-28,-28,-27,-27,
-27,-26,-26,-26,-25,-25,-25,-25,-24,-24,
-24,-24,-24,-23,-23,-23,-23,-23,-23,-22,
-22,-22,-22,-22,-22,-22,-22,-22,-22,-22,
-22,-22,-21];
const bmn19_dip_a = [-146,-147,-147,-146,-145,-143,-140,-135,-128,-118,
-104,-86,-64,-42,-24,-10,0,7,11,14,
15,16,16,17,17,17,17,17,16,16,
15,14,13,12,12,12,12,13,14,15,
16,17,18,19,20,21,22,23,24,25,
26,27,27,28,29,30,30,31,32,32,
33,34,34,35,35,36,36,37,37,38,
38,39,39];
const bmn19_dip_b = [-147,-148,-148,-147,-146,-145,-142,-138,-132,-123,
-111,-95,-75,-53,-32,-14,-2,6,10,13,
14,15,16,16,16,16,15,14,12,9,
5,0,-6,-13,-20,-27,-33,-37,-39,-40,
-39,-37,-35,-33,-31,-29,-27,-25,-23,-21,
-19,-17,-15,-13,-11,-10,-8,-7,-5,-4,
-2,-1,1,2,4,5,7,8,10,11,
13,14,15];
const bmn19_dip_c = [null,null,null,null,null,null,null,null,null,null,
null,-163,-157,-145,-131,-115,-96,-75,-54,-35,
-20,-9,-2,2,4,4,3,1,-2,-5,
-8,-11,-13,-14,-14,-13,-12,-11,-10,-9,
-8,-7,-6,-4,-3,-2,0,1,2,4,
5,6,8,9,10,11,13,14,15,16,
17,18,19,20,21,22,23,24,25,26,
27,27,28];
const bmn19_dip_d = [null,null,null,null,null,null,null,null,null,null,
null,null,-162,-155,-143,-129,-112,-93,-74,-57,
-43,-32,-24,-18,-14,-12,-11,-12,-14,-17,
-20,-24,-28,-31,-33,-34,-34,-33,-32,-31,
-30,-29,-28,-27,-26,-25,-24,-23,-22,-21,
-20,-19,-18,-17,-16,-15,-14,-13,-12,-11,
-10,-9,-8,-6,-4,-2,0,2,4,6,
8,10,12];
const bmn19_dip_e = [-148,-149,-149,-148,-147,-146,-144,-141,-136,-129,
-119,-105,-87,-66,-45,-26,-11,-1,5,9,
11,12,13,13,13,12,10,8,5,2,
0,-2,-3,-3,-3,-2,-1,0,1,3,
4,6,7,8,10,11,12,13,15,16,
17,18,19,20,21,22,23,23,24,25,
26,27,28,29,30,31,32,33,34,35,
36,37,38];
const bmn19_dip_f = [-147,-148,-148,-147,-146,-144,-141,-137,-130,-121,
-108,-91,-70,-48,-28,-13,-2,5,9,12,
14,15,15,16,16,16,16,15,14,13,
11,9,8,7,7,7,8,9,10,11,
12,13,14,15,16,17,18,19,20,21,
21,22,23,24,24,25,26,26,27,27,
28,28,29,29,30,30,31,31,31,32,
32,32,33];
const bmn19_dip_g = [null,null,null,null,null,null,null,null,null,null,
null,null,null,-161,-153,-140,-124,-106,-87,-69,
-53,-40,-29,-21,-15,-11,-9,-9,-11,-14,
-18,-23,-27,-31,-34,-36,-37,-38,-37,-36,
-34,-32,-30,-28,-26,-24,-22,-20,-18,-16,
-14,-12,-10,-8,-6,-5,-3,-2,0,1,
3,5,6,8,9,11,12,14,15,17,
18,20,22];

const PANEL_HAP = [
  [bmn22_hap_a,bmn22_hap_b,bmn22_hap_c,bmn22_hap_d,bmn22_hap_e,bmn22_hap_f],
  [bmn31_hap_a,bmn31_hap_b,bmn31_hap_c,bmn31_hap_d,bmn31_hap_e,bmn31_hap_f,bmn31_hap_g,bmn31_hap_h],
  [bmn34_hap_a,bmn34_hap_b,bmn34_hap_c],
  [bmn5_hap_a,bmn5_hap_b,bmn5_hap_c,bmn5_hap_d,bmn5_hap_e,bmn5_hap_f,bmn5_hap_g,bmn5_hap_h,bmn5_hap_i],
  [bmn6_hap_a,bmn6_hap_b,bmn6_hap_c,bmn6_hap_d,bmn6_hap_e,bmn6_hap_f,bmn6_hap_g,bmn6_hap_h,bmn6_hap_i],
  [bmn19_hap_a,bmn19_hap_b,bmn19_hap_c,bmn19_hap_d,bmn19_hap_e,bmn19_hap_f,bmn19_hap_g,bmn19_hap_h,bmn19_hap_i]
];
const PANEL_DIP = [
  [bmn22_dip_a,bmn22_dip_b],
  [bmn31_dip_a,bmn31_dip_b,bmn31_dip_c,bmn31_dip_d],
  [bmn34_dip_a,bmn34_dip_b,bmn34_dip_c,bmn34_dip_d],
  [bmn5_dip_a,bmn5_dip_b,bmn5_dip_c,bmn5_dip_d,bmn5_dip_e,bmn5_dip_f,bmn5_dip_g,bmn5_dip_h,bmn5_dip_i],
  [bmn6_dip_a,bmn6_dip_b,bmn6_dip_c,bmn6_dip_d,bmn6_dip_e,bmn6_dip_f,bmn6_dip_g,bmn6_dip_h,bmn6_dip_i],
  [bmn19_dip_a,bmn19_dip_b,bmn19_dip_c,bmn19_dip_d,bmn19_dip_e,bmn19_dip_f,bmn19_dip_g]
];

// ---- layout ----
const FONT = '"Liberation Sans", Arial, Helvetica, sans-serif';
const RED = '#ff0000', BLUE = '#0000ff';
const COL_LEFT = [124, 503, 882];
const PANEL_W = 329;
const ROWS = [
  {top: 55, height: 248, min: -1.575, max: 0.48, titleY: 28},
  {top: 404, height: 247, min: -1.569, max: 0.471, titleY: 377}
];

const fmtY = v => (v < 0 ? '\u2212' : '') + Math.abs(v).toFixed(1);

const grids = [], xAxes = [], yAxes = [], series = [], graphics = [];

function mkSeries(arr, name, color, gi) {
  const data = [];
  arr.forEach((v, k) => { if (v !== null) data.push([HOURS[k], v / 100]); });
  return {
    type: 'scatter', name, xAxisIndex: gi, yAxisIndex: gi, data,
    symbol: 'circle', symbolSize: 8.5,
    itemStyle: {color: 'rgba(0,0,0,0)', borderColor: color, borderWidth: 2, opacity: 1},
    silent: true, animation: false, clip: true, emphasis: {disabled: true}
  };
}

PANEL_NAMES.forEach((name, i) => {
  const r = Math.floor(i / 3), c = i % 3, R = ROWS[r];
  grids.push({left: COL_LEFT[c], top: R.top, width: PANEL_W, height: R.height,
    show: true, borderColor: '#000', borderWidth: 1.5, backgroundColor: 'rgba(0,0,0,0)'});
  xAxes.push({type: 'value', gridIndex: i, min: -2.88, max: 74.88, position: 'bottom',
    axisLine: {show: false, onZero: false}, splitLine: {show: false},
    axisTick: {show: true, inside: false, customValues: X_TICKS, length: 12, lineStyle: {color: '#000', width: 1.5}},
    axisLabel: {show: r === 1, customValues: X_TICKS, margin: 30, fontSize: 19, color: '#000', fontFamily: FONT}});
  yAxes.push({type: 'value', gridIndex: i, min: R.min, max: R.max, position: 'left',
    axisLine: {show: false, onZero: false}, splitLine: {show: false},
    axisTick: {show: true, inside: false, customValues: Y_TICKS, length: 12, lineStyle: {color: '#000', width: 1.5}},
    axisLabel: {show: c === 0, customValues: Y_TICKS, margin: 25, fontSize: 19, color: '#000', fontFamily: FONT, formatter: fmtY}});
  PANEL_HAP[i].forEach(a => series.push(mkSeries(a, GROUPS[0], RED, i)));
  PANEL_DIP[i].forEach(a => series.push(mkSeries(a, GROUPS[1], BLUE, i)));
  graphics.push({type: 'text', x: COL_LEFT[c] + 17, y: R.top + 21, z: 50,
    style: {text: name, fill: '#000', font: 'bold 21px ' + FONT, align: 'left', verticalAlign: 'middle'}});
});

ROW_TITLES.forEach((t, r) => {
  graphics.push({type: 'text', x: 669, y: ROWS[r].titleY, z: 50,
    style: {text: t, fill: '#000', font: 'italic bold 31.5px ' + FONT, align: 'center', verticalAlign: 'middle'}});
});
graphics.push({type: 'text', x: 668, y: 745, z: 50,
  style: {text: 'Time (hours)', fill: '#000', font: '45.5px ' + FONT, align: 'center', verticalAlign: 'middle'}});
graphics.push({type: 'text', x: 33, y: 352, rotation: Math.PI / 2, z: 50,
  style: {text: 'log(Optical density)', fill: '#000', font: '52px ' + FONT, align: 'center', verticalAlign: 'middle'}});

const chart = echarts.init(document.getElementById('c'), null, {renderer: 'canvas'});
chart.setOption({
  animation: false,
  backgroundColor: '#fff',
  grid: grids, xAxis: xAxes, yAxis: yAxes, series,
  legend: {
    show: true, orient: 'vertical', left: 1088, top: 576, z: 20,
    padding: [14, 14, 12, 12], itemGap: 6, itemWidth: 22, itemHeight: 13,
    borderColor: '#000', borderWidth: 1.5, borderRadius: 0, backgroundColor: '#fff',
    selectedMode: false,
    textStyle: {fontSize: 18, color: '#000', fontFamily: FONT},
    data: [
      {name: GROUPS[0], icon: 'circle', itemStyle: {color: RED, borderColor: RED, borderWidth: 0}},
      {name: GROUPS[1], icon: 'circle', itemStyle: {color: BLUE, borderColor: BLUE, borderWidth: 0}}
    ]
  },
  graphic: graphics
});
</script></body></html>
